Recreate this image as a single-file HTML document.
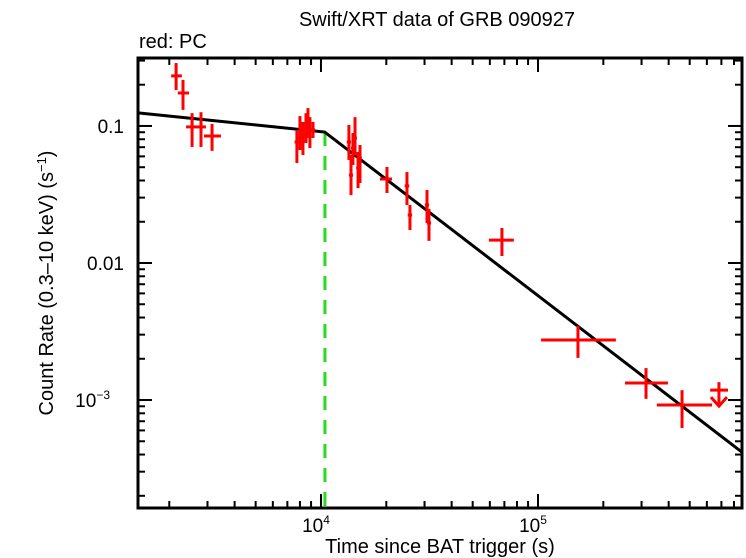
<!DOCTYPE html>
<html><head><meta charset="utf-8"><style>
body{margin:0;background:#fff;}
svg{display:block;font-family:"Liberation Sans",sans-serif;}
</style></head><body>
<svg id="chart" width="746" height="558" viewBox="0 0 746 558">
<text x="437" y="26" font-size="20" text-anchor="middle">Swift/XRT data of GRB 090927</text>
<text x="139" y="48" font-size="20">red: PC</text>
<text x="440" y="553" font-size="20" text-anchor="middle">Time since BAT trigger (s)</text>
<text transform="translate(53,283) rotate(-90)" font-size="20" text-anchor="middle">Count Rate (0.3–10 keV) (s<tspan dy="-7" font-size="13">−1</tspan><tspan dy="7">)</tspan></text>
<g id="ticks"></g>
<g id="marks"></g>
<rect x="138" y="58" width="604" height="450" fill="none" stroke="#000" stroke-width="3"/>
</svg>
<script>
// data
const times    = [2150,2313,2547,2800,3148,7745,8000,8260,8530,8710,8890,9190,13450,13750,14040,14350,14820,15130,20140,24900,25700,30800,31450,68200,152800,314600,461000];
const timeLo   = [2040,2190,2390,2712,2891,7560,7810,8070,8330,8510,8680,8980,13150,13450,13740,14050,14520,14830,18710,24300,25100,30100,30750,59400,103300,251800,353000];
const timeHi   = [2285,2466,2712,2951,3459,7930,8190,8450,8730,8910,9100,9400,13750,14050,14340,14650,15120,15430,21250,25500,26300,31500,32150,77400,228500,397000,634000];
const rates    = [0.232,0.174,0.0984,0.0984,0.0845,0.0764,0.0817,0.0860,0.0935,0.1017,0.0935,0.0935,0.0764,0.0438,0.069,0.0817,0.0493,0.0583,0.0410,0.0365,0.0224,0.0265,0.0196,0.0147,0.00274,0.00133,0.00092];
const rateLo   = [0.183,0.131,0.0703,0.0703,0.0658,0.0537,0.0668,0.0614,0.0751,0.0817,0.069,0.0817,0.0565,0.0313,0.0519,0.0614,0.0352,0.0384,0.0324,0.0265,0.0174,0.0196,0.0145,0.01125,0.00203,0.00102,0.000625];
const rateHi   = [0.288,0.217,0.124,0.126,0.1035,0.0935,0.118,0.107,0.124,0.135,0.116,0.107,0.1017,0.0614,0.0889,0.116,0.0646,0.0726,0.0502,0.0461,0.0265,0.0341,0.0248,0.0180,0.00347,0.00171,0.00118];
const ulTime = [682000], ulLo=[621000], ulHi=[751000], ulRate=[0.00118];
const modelStart = 1435, modelEnd = 871000, modelNorm = 0.1245, modelBreak = 10400, alpha1 = 0.162, alpha2 = 1.215;
const breakLine = [10430];
const xMajor = [10000,100000], xMajorLabels = ["4","5"];
const yMajor = [0.1,0.01,0.001], yMajorLabels = ["0.1","0.01","10"];

const L=138,R=742,T=58,B=508;
const lx0=Math.log10(1435), lx1=Math.log10(871000);
const ly0=-3.788, ly1=-0.504;
const X=t=>L+(Math.log10(t)-lx0)/(lx1-lx0)*(R-L);
const Y=r=>B-(Math.log10(r)-ly0)/(ly1-ly0)*(B-T);
const NS="http://www.w3.org/2000/svg";
function mk(tag,attrs,parent){const e=document.createElementNS(NS,tag);for(const k in attrs)e.setAttribute(k,attrs[k]);parent.appendChild(e);return e;}
const tk=document.getElementById('ticks'), mg=document.getElementById('marks');

for(let d=3;d<=5;d++)for(let m=1;m<10;m++){const t=m*10**d;if(t<1435||t>871000)continue;const x=X(t);const len=m===1?14:7;
 const a=mk('line',{x1:x,x2:x,y1:B,y2:B-len,stroke:'#000','stroke-width':2},tk);
 
 
 const b=mk('line',{x1:x,x2:x,y1:T,y2:T+len,stroke:'#000','stroke-width':2},tk);
 
 }
xMajor.forEach((t,i)=>{const g=mk('text',{x:X(t)-5,y:532,'font-size':19,'text-anchor':'middle'},tk);
 
 
 g.textContent='10';const s=mk('tspan',{dy:-8,'font-size':12},g);s.textContent=xMajorLabels[i];});
for(let d=-4;d<=-1;d++)for(let m=1;m<10;m++){const r=m*10**d;const y=Y(r);if(y<T||y>B)continue;const len=m===1?14:7;
 const a=mk('line',{x1:L,x2:L+len,y1:y,y2:y,stroke:'#000','stroke-width':2},tk);
 
 
 const b=mk('line',{x1:R-len,x2:R,y1:y,y2:y,stroke:'#000','stroke-width':2},tk);
 
 }
yMajor.forEach((r,i)=>{const g=mk('text',{x:i===2?110:124,y:Y(r)+7,'font-size':19,'text-anchor':'end'},tk);
 
 
 g.textContent=yMajorLabels[i];
 if(i===2){const s=mk('tspan',{dy:-8,'font-size':12},g);s.textContent='−3';}});

breakLine.forEach(t=>{const l=mk('line',{x1:X(t),x2:X(t),y1:Y(modelNorm*(t/modelStart)**-alpha1),y2:B,stroke:'#22dd22','stroke-width':3,'stroke-dasharray':'14,10'},mg);
 
 });
const rb=modelNorm*(modelBreak/modelStart)**-alpha1, re=rb*(modelEnd/modelBreak)**-alpha2;
const mp=mk('polyline',{points:`${X(modelStart)},${Y(modelNorm)} ${X(modelBreak)},${Y(rb)} ${X(modelEnd)},${Y(re)}`,fill:'none',stroke:'#000','stroke-width':3},mg);


times.forEach((t,i)=>{const g=mk('g',{stroke:'#ff0000','stroke-width':3},mg);
 
 
 mk('line',{x1:X(timeLo[i]),x2:X(timeHi[i]),y1:Y(rates[i]),y2:Y(rates[i])},g);
 mk('line',{x1:X(t),x2:X(t),y1:Y(rateHi[i]),y2:Y(rateLo[i])},g);});
ulTime.forEach((t,i)=>{const g=mk('g',{stroke:'#ff0000','stroke-width':3,fill:'none'},mg);
 
 
 const y=Y(ulRate[i]),x=X(t);
 mk('line',{x1:X(ulLo[i]),x2:X(ulHi[i]),y1:y,y2:y},g);
 mk('line',{x1:x,x2:x,y1:y-8,y2:y+16},g);
 mk('polyline',{points:`${x-8},${y+7} ${x},${y+16} ${x+8},${y+7}`},g);});
</script>
</body></html>
